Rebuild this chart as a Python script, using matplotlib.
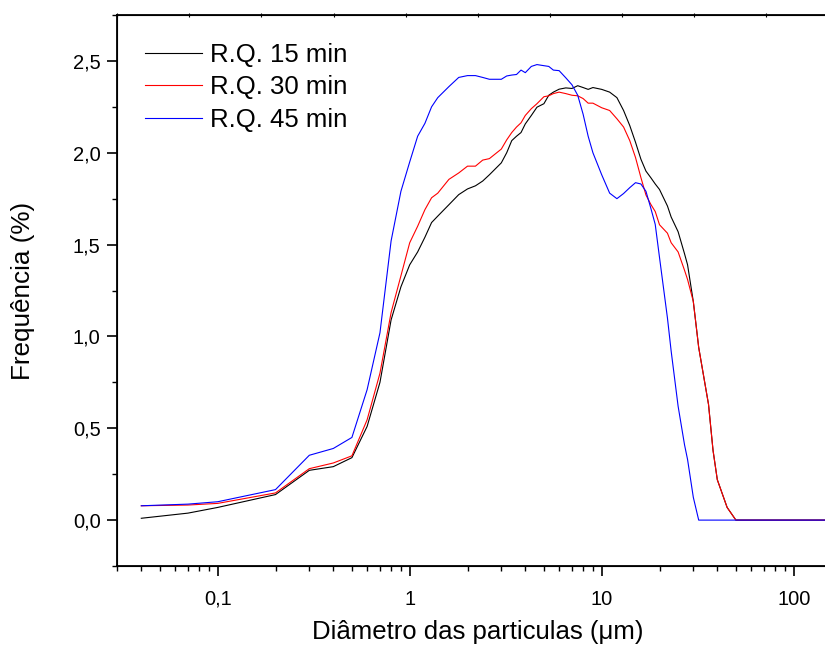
import matplotlib
matplotlib.use('Agg')
import matplotlib.pyplot as plt
from matplotlib.ticker import FixedLocator, FuncFormatter, NullFormatter, MultipleLocator
import numpy as np

plt.rcParams['font.family'] = ['Liberation Sans', 'DejaVu Sans']

# particle size classes (um)
diametro = [0.04, 0.07, 0.1, 0.2, 0.3, 0.4, 0.5, 0.6, 0.7, 0.8, 0.9, 1.0,
            1.1, 1.2, 1.3, 1.4, 1.6, 1.8, 2.0, 2.2, 2.4, 2.6, 3.0, 3.2, 3.4,
            3.6, 3.8, 4.0, 4.3, 4.6, 5.0, 5.3, 5.6, 6.0, 6.5, 7.0, 7.5, 8.0,
            8.5, 9.0, 10, 11, 12, 13, 14, 15, 16, 17, 18, 19, 20, 22, 23, 25,
            27, 28, 30, 32, 36, 38, 40, 45, 50, 56, 63, 71, 80, 90, 100, 112,
            125, 140, 150, 160, 180, 200]

rq15 = [0.01, 0.038, 0.069, 0.139, 0.271, 0.291, 0.34, 0.51, 0.75, 1.09, 1.27, 1.39,
        1.46, 1.54, 1.62, 1.655, 1.717, 1.772, 1.803, 1.82, 1.846, 1.88, 1.945, 2.0, 2.066,
        2.09, 2.11, 2.157, 2.203, 2.248, 2.267, 2.313, 2.33, 2.346, 2.353, 2.35, 2.365, 2.355,
        2.345, 2.355, 2.345, 2.33, 2.30, 2.23, 2.148, 2.057, 1.965, 1.90, 1.865, 1.83, 1.80, 1.71, 1.65, 1.57,
        1.45, 1.39, 1.19, 0.94, 0.63, 0.38, 0.22, 0.069, 0.0, 0.0, 0.0, 0.0, 0.0, 0.0, 0.0, 0.0,
        0.0, 0.0, 0.0, 0.0, 0.0, 0.0]

rq30 = [0.078, 0.082, 0.091, 0.148, 0.28, 0.311, 0.35, 0.546, 0.80, 1.13, 1.33, 1.51,
        1.60, 1.69, 1.755, 1.78, 1.855, 1.89, 1.927, 1.927, 1.96, 1.968, 2.02, 2.07, 2.11,
        2.14, 2.163, 2.203, 2.24, 2.267, 2.305, 2.31, 2.322, 2.33, 2.322, 2.313, 2.31, 2.295,
        2.27, 2.27, 2.245, 2.23, 2.185, 2.14, 2.066, 1.974, 1.865, 1.77, 1.72, 1.68, 1.608, 1.562, 1.51, 1.46,
        1.36, 1.31, 1.19, 0.94, 0.63, 0.38, 0.22, 0.069, 0.0, 0.0, 0.0, 0.0, 0.0, 0.0, 0.0, 0.0,
        0.0, 0.0, 0.0, 0.0, 0.0, 0.0]

rq45 = [0.078, 0.087, 0.10, 0.166, 0.353, 0.39, 0.45, 0.71, 1.02, 1.52, 1.79, 1.95,
        2.09, 2.16, 2.25, 2.30, 2.36, 2.41, 2.42, 2.42, 2.41, 2.40, 2.40, 2.418, 2.423,
        2.426, 2.45, 2.436, 2.47, 2.48, 2.474, 2.47, 2.45, 2.447, 2.408, 2.37, 2.313, 2.21,
        2.09, 2.0, 1.88, 1.78, 1.75, 1.778, 1.81, 1.837, 1.83, 1.79, 1.70, 1.61, 1.43, 1.10, 0.92, 0.62,
        0.41, 0.33, 0.124, 0.0, 0.0, 0.0, 0.0, 0.0, 0.0, 0.0, 0.0, 0.0, 0.0, 0.0, 0.0, 0.0,
        0.0, 0.0, 0.0, 0.0, 0.0, 0.0]

labels = ['R.Q. 15 min', 'R.Q. 30 min', 'R.Q. 45 min']
cores = ['black', 'red', 'blue']

fig = plt.figure(figsize=(8.25, 6.46), dpi=100)
ax = fig.add_axes([0.1422, 0.1238, 0.8735, 0.853])

for serie, lab, c in zip([rq15, rq30, rq45], labels, cores):
    ax.plot(diametro, serie, color=c, lw=0.8, label=lab)

ax.set_xscale('log')
ax.set_xlim(0.03, 170)
ax.set_ylim(-0.25, 2.75)

def virgula(v, pos):
    if v >= 1:
        return '%d' % v
    return ('%g' % v).replace('.', ',')

ax.xaxis.set_major_locator(FixedLocator([0.1, 1, 10, 100]))
ax.xaxis.set_major_formatter(FuncFormatter(virgula))
ax.xaxis.set_minor_formatter(NullFormatter())
ax.yaxis.set_major_locator(MultipleLocator(0.5))
ax.yaxis.set_minor_locator(MultipleLocator(0.25))
ax.yaxis.set_major_formatter(FuncFormatter(lambda v, p: ('%.1f' % v).replace('.', ',')))

for s in ax.spines.values():
    s.set_linewidth(1.3)
ax.tick_params(which='major', direction='out', length=7, width=1.2, labelsize=14.5)
ax.tick_params(axis='x', which='major', pad=10)
ax.tick_params(axis='y', which='major', pad=5)
ax.tick_params(which='minor', direction='out', length=3.5, width=1.0)
ax.tick_params(top=False, right=False, which='both')

# small marks on the top axis
ax2 = ax.twiny()
ax2.set_xlim(0, 10)
ax2.set_xticks(np.arange(0, 11))
ax2.tick_params(direction='inout', length=2.5, width=0.8, labeltop=False)

ax.set_xlabel('Diâmetro das particulas (μm)', fontsize=18.5, labelpad=8)
ax.set_ylabel('Frequência (%)', fontsize=18.8, labelpad=27)

ax.legend(loc='upper left', frameon=False, fontsize=18.5, handlelength=2.2,
          handletextpad=0.3, labelspacing=0.33, borderaxespad=0.3,
          bbox_to_anchor=(0.014, 0.982))

fig.savefig('out.png', dpi=100)
